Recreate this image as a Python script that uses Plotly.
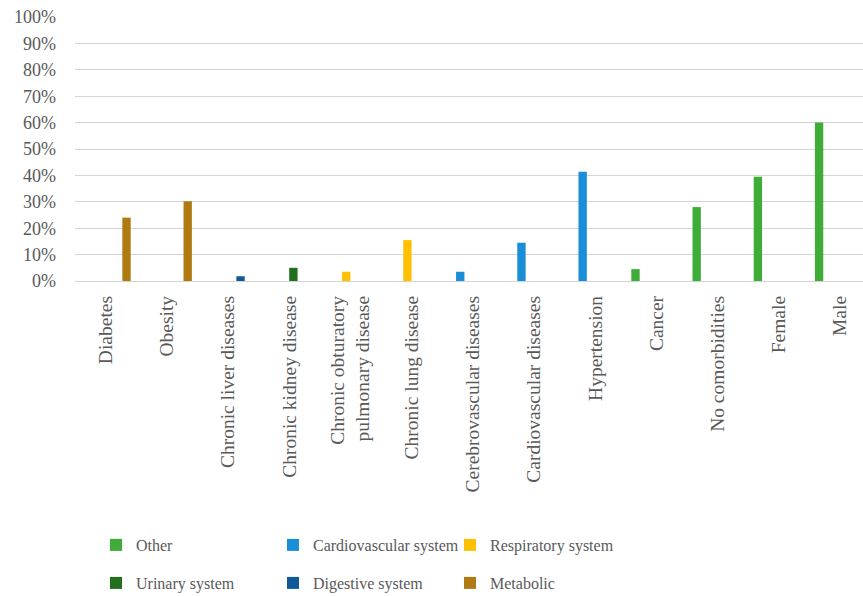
import plotly.graph_objects as go

categories = ["Diabetes", "Obesity", "Chronic liver diseases", "Chronic kidney disease",
              "Chronic obturatory<br>pulmonary disease", "Chronic lung disease",
              "Cerebrovascular diseases", "Cardiovascular diseases", "Hypertension",
              "Cancer", "No comorbidities", "Female", "Male"]

other          = [None, None, None, None, None, None, None, None, None, 4.5, 28, 39.5, 60]
cardiovascular = [None, None, None, None, None, None, 3.5, 14.5, 41.4, None, None, None, None]
respiratory    = [None, None, None, None, 3.5, 15.5, None, None, None, None, None, None, None]
urinary        = [None, None, None, 5, None, None, None, None, None, None, None, None, None]
digestive      = [None, None, 1.8, None, None, None, None, None, None, None, None, None, None]
metabolic      = [24, 30.2, None, None, None, None, None, None, None, None, None, None, None]

y_ticks = [0, 10, 20, 30, 40, 50, 60, 70, 80, 90, 100]

series = [
    ("Other", other, "#3dad37", "legend"),
    ("Cardiovascular system", cardiovascular, "#1a8fd8", "legend"),
    ("Respiratory system", respiratory, "#ffc000", "legend"),
    ("Urinary system", urinary, "#236f1f", "legend2"),
    ("Digestive system", digestive, "#0e5a98", "legend2"),
    ("Metabolic", metabolic, "#b07a12", "legend2"),
]

FONT = "Liberation Serif"
GREY = "#595959"

fig = go.Figure()
for name, vals, color, lg in series:
    fig.add_trace(go.Bar(
        x=list(range(len(categories))), y=vals, name=name,
        marker=dict(color=color, line=dict(width=0)),
        legend=lg,
    ))

W, H = 863, 596
legend_common = dict(
    orientation="h", xref="container", yref="container",
    xanchor="left", yanchor="middle",
    entrywidth=132, entrywidthmode="pixels",
    font=dict(family=FONT, size=16, color=GREY),
    bgcolor="rgba(0,0,0,0)", itemwidth=30,
)

fig.update_layout(
    width=W, height=H,
    margin=dict(l=75, r=0, t=17, b=315),
    paper_bgcolor="white", plot_bgcolor="white",
    barmode="group", bargap=0.18, bargroupgap=0,
    showlegend=True,
    legend=dict(x=96 / W, y=1 - 545 / H, **legend_common),
    legend2=dict(x=96 / W, y=1 - 583 / H, **legend_common),
    xaxis=dict(
        tickmode="array", tickvals=list(range(len(categories))), ticktext=categories,
        tickangle=-90, range=[-0.5, 12.376],
        showgrid=False, zeroline=False, showline=False, ticks="",
        tickfont=dict(family=FONT, size=19.5, color=GREY),
        ticklabelstandoff=10,
    ),
    yaxis=dict(
        range=[0, 100], tickmode="array", tickvals=y_ticks,
        ticktext=[f"{t}%" for t in y_ticks],
        showgrid=True, gridcolor="#d4d4d4", gridwidth=1.4,
        zeroline=True, zerolinecolor="#d4d4d4", zerolinewidth=1.4,
        showline=False, ticks="",
        tickfont=dict(family=FONT, size=18, color=GREY),
        ticklabelstandoff=18,
    ),
)

fig.write_html("out.html")
